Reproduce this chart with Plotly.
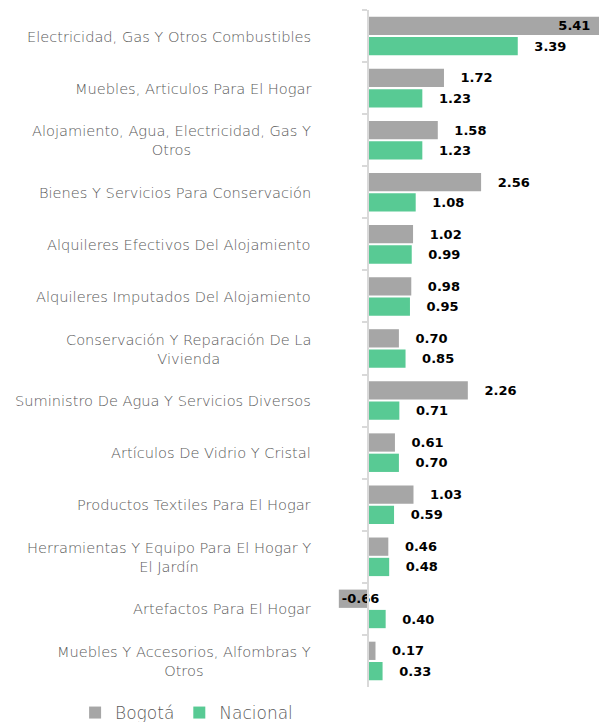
import plotly.graph_objects as go

categories = [
    "Electricidad, Gas Y Otros Combustibles",
    "Muebles, Articulos Para El Hogar",
    "Alojamiento, Agua, Electricidad, Gas Y<br>Otros",
    "Bienes Y Servicios Para Conservación",
    "Alquileres Efectivos Del Alojamiento",
    "Alquileres Imputados Del Alojamiento",
    "Conservación Y Reparación De La<br>Vivienda",
    "Suministro De Agua Y Servicios Diversos",
    "Artículos De Vidrio Y Cristal",
    "Productos Textiles Para El Hogar",
    "Herramientas Y Equipo Para El Hogar Y<br>El Jardín",
    "Artefactos Para El Hogar",
    "Muebles Y Accesorios, Alfombras Y<br>Otros",
]
bogota = [5.41, 1.72, 1.58, 2.56, 1.02, 0.98, 0.70, 2.26, 0.61, 1.03, 0.46, -0.66, 0.17]
nacional = [3.39, 1.23, 1.23, 1.08, 0.99, 0.95, 0.85, 0.71, 0.70, 0.59, 0.48, 0.40, 0.33]

GRAY = "#A6A6A6"
GREEN = "#58CA94"
NB = "\u00a0"
xmax = max(bogota)
xmin = -0.973

def label_text(v):
    if v == xmax:
        return f"{v:.2f}" + NB * 3
    if v < 0:
        return f"{v:.2f}"
    return NB * 3 + f"{v:.2f}"

def label_pos(v):
    if v == xmax or v < 0:
        return "inside"
    return "outside"

VFONT = dict(family="DejaVu Sans", size=13, color="#000000", weight="bold")

fig = go.Figure()
for name, vals, col in [("Bogotá", bogota, GRAY), ("Nacional", nacional, GREEN)]:
    fig.add_trace(go.Bar(
        name=name, y=categories, x=vals, orientation="h",
        marker=dict(color=col, line=dict(width=0)),
        text=[label_text(v) for v in vals],
        textposition=[label_pos(v) for v in vals],
        insidetextanchor="end",
        textfont=VFONT, insidetextfont=VFONT, outsidetextfont=VFONT,
        cliponaxis=False,
        constraintext="none",
    ))

for c in categories:
    fig.add_annotation(
        x=-0.0426, xref="paper", y=c, yref="y", text=c, showarrow=False,
        xanchor="right", align="center",
        font=dict(family="DejaVu Sans", size=14.6, color="#595959", weight=300),
    )

fig.update_layout(
    width=599, height=714,
    margin=dict(l=317, r=0, t=2, b=35, autoexpand=False),
    paper_bgcolor="white", plot_bgcolor="white",
    barmode="group", bargap=0.22, bargroupgap=0.1,
    uniformtext=dict(mode=False),
    showlegend=True,
    legend=dict(orientation="h", xref="container", x=0.112, xanchor="left",
                yref="container", y=0.0126, yanchor="middle",
                font=dict(family="DejaVu Sans", size=17, color="#595959", weight=300),
                itemwidth=30, traceorder="normal"),
    xaxis=dict(range=[xmin, xmax], showgrid=False, zeroline=False, showticklabels=False,
               showline=False, ticks=""),
    yaxis=dict(autorange="reversed", showticklabels=False, showgrid=False,
               anchor="free", position=(0 - xmin) / (xmax - xmin),
               showline=True, linecolor="#D9D9D9", linewidth=2,
               ticks="outside", ticklen=5, tickcolor="#D9D9D9", tickwidth=2,
               tickson="boundaries"),
)
fig.write_html("out.html")
